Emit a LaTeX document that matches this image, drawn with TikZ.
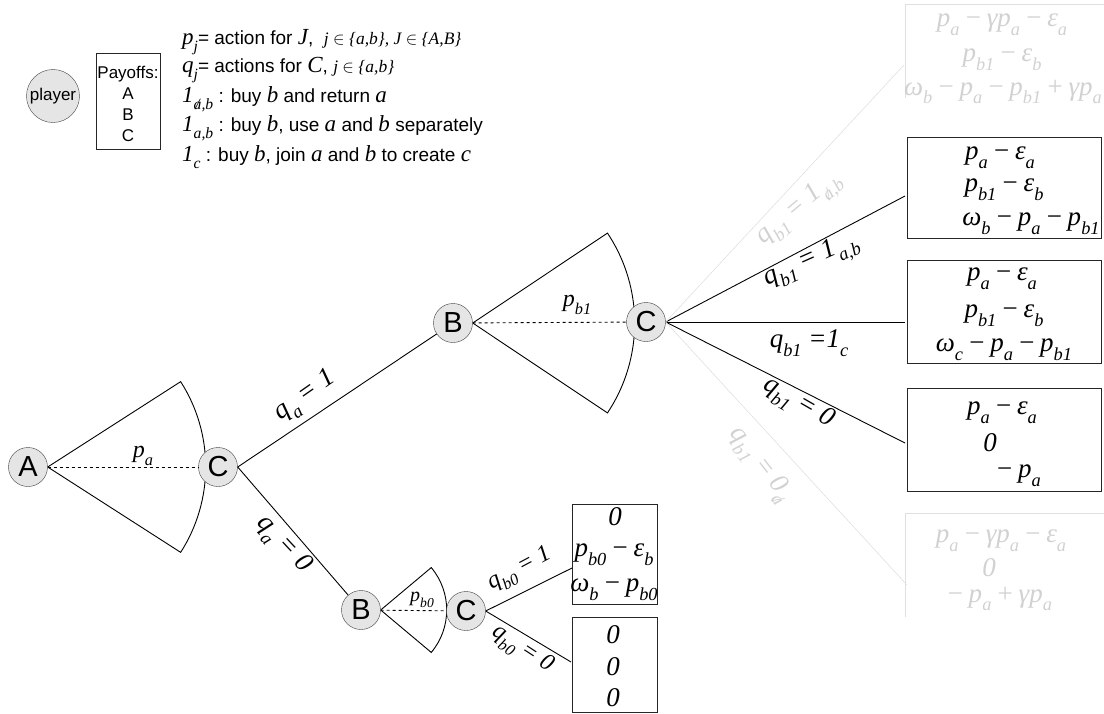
\documentclass[tikz,border=0pt]{standalone}
\usepackage{fontspec}
\setmainfont{Liberation Sans}
\newfontfamily\tms{Liberation Serif}
\newcommand{\sbs}[1]{\raisebox{-0.32em}{\scalebox{0.68}{#1}}}
\newcommand{\nota}{\ooalign{a\cr\hidewidth/\hidewidth}}
\newcommand{\mi}[1]{{\tms\itshape\fontsize{23}{23}\selectfont #1}}
\newcommand{\smi}[1]{{\tms\itshape\fontsize{17.5}{17.5}\selectfont #1}}
\pgfdeclarelayer{bg}\pgfsetlayers{bg,main}
\tikzset{
 plnode/.style={circle,draw=black!75,fill=black!10,minimum size=39pt,inner sep=0pt,font=\fontsize{29}{29}\selectfont},
 lbl/.style={inner sep=0pt,font=\tms\itshape\fontsize{27}{27}\selectfont},
 paybox/.style={draw=black!85,anchor=north west,inner sep=0pt,line width=0.9pt},
 paytxt/.style={inner sep=0pt,font=\tms\itshape\fontsize{27}{27}\selectfont},
 fadetxt/.style={paytxt,text=black!18},
 fadelbl/.style={lbl,text=black!18},
 fadeline/.style={draw=black!12,line width=0.6pt},
 edge/.style={draw=black,line width=0.9pt},
 legtxt/.style={inner sep=0pt,anchor=west,font=\fontsize{19}{19}\selectfont}
}
\begin{document}
\begin{tikzpicture}[x=1pt,y=-1pt]
\useasboundingbox (0,0) rectangle (1104,713);
% players
\node[plnode] (A) at (28,467) {A};
\node[plnode] (C1) at (218,467) {C};
\node[plnode] (B1) at (453,323) {B};
\node[plnode] (C2) at (646,322) {C};
\node[plnode] (B0) at (361,610) {B};
\node[plnode] (C0) at (466,611) {C};
% sectors
\begin{pgfonlayer}{bg}
\draw[edge] (A.east) -- ++(32.7:158) arc[start angle=32.7,end angle=-32.7,radius=158] -- cycle;
\draw[edge] (B1.east) -- ++(33.7:162) arc[start angle=33.7,end angle=-33.7,radius=162] -- cycle;
\draw[edge] (B0.east) -- ++(40:66) arc[start angle=40,end angle=-40,radius=66] -- cycle;
\end{pgfonlayer}
\draw[dashed,line width=0.9pt] (A) -- (C1);
\draw[dashed,line width=0.9pt] (B1) -- (C2);
\draw[dashed,line width=0.9pt] (B0) -- (C0);
% tree edges
\draw[edge] (C1.east) -- (B1);
\draw[edge] (C1.east) -- (B0);
% payoff boxes
\node[paybox,minimum width=194pt,minimum height=101pt] (box1) at (907,137) {};
\node[paybox,minimum width=194pt,minimum height=103pt] (box2) at (907,260) {};
\node[paybox,minimum width=194pt,minimum height=103pt] (box3) at (907,388) {};
\node[paybox,minimum width=85pt,minimum height=100pt] (boxb1) at (572,504) {};
\node[paybox,minimum width=85pt,minimum height=95pt] (boxb0) at (572,617) {};
\coordinate (e1) at (905,196);
\coordinate (e2) at (905,322);
\coordinate (e3) at (905,443);
\coordinate (f1) at (904,65);
\coordinate (f2) at (907,585);
\coordinate (g1) at (572,568);
\coordinate (g2) at (571,662);
\draw[edge] (C2.east) -- (e1);
\draw[edge] (C2.east) -- (e2);
\draw[edge] (C2.east) -- (e3);
\draw[fadeline] (C2.east) -- (f1);
\draw[fadeline] (C2.east) -- (f2);
\draw[edge] (C0.east) -- (g1);
\draw[edge] (C0.east) -- (g2);
% faded boxes
\draw[fadeline] (1104,4) -- (905,4) -- (905,98);
\draw[fadeline] (1104,513) -- (905,513) -- (905,617);
% edge labels
\node[lbl,font=\tms\itshape\fontsize{24}{24}\selectfont] (lpa) at (143,456) {p\sbs{a}};
\node[lbl,font=\tms\itshape\fontsize{24}{24}\selectfont] (lpb1) at (577,305) {p\sbs{b1}};
\node[lbl,font=\tms\itshape\fontsize{20}{20}\selectfont] (lpb0) at (422,600) {p\sbs{b0}};
\node[lbl,rotate=35] (lqa1) at (306,397) {q\sbs{a} = 1};
\node[lbl,rotate=-47] (lqa0) at (283,545) {q\sbs{a} = 0};
\node[lbl,rotate=24] (l1) at (812,262) {q\sbs{b1} = 1\sbs{a,b}};
\node[lbl] (l2) at (809,343) {q\sbs{b1} =1\sbs{c}};
\node[lbl,rotate=-30] (l3) at (798,404) {q\sbs{b1} = 0};
\node[fadelbl,rotate=40] (lf1) at (800,210) {q\sbs{b1} = 1\sbs{\nota,b}};
\node[fadelbl,rotate=-52] (lf2) at (760,465) {q\sbs{b1} = 0\sbs{\nota}};
\node[lbl,font=\tms\itshape\fontsize{24}{24}\selectfont,rotate=28] (lqb1) at (520,570) {q\sbs{b0} = 1};
\node[lbl,font=\tms\itshape\fontsize{24}{24}\selectfont,rotate=-33] (lqb0) at (522,650) {q\sbs{b0} = 0};
% payoffs text
\node[fadetxt] (tf11) at (1002,25) {p\sbs{a}\,−\,γp\sbs{a}\,−\,ε\sbs{a}};
\node[fadetxt] (tf12) at (1002,60) {p\sbs{b1}\,−\,ε\sbs{b}};
\node[fadetxt] (tf13) at (1003,92) {ω\sbs{b}\,−\,p\sbs{a}\,−\,p\sbs{b1}\,+\,γp\sbs{a}};
\node[paytxt] (t11) at (1000,158) {p\sbs{a}\,−\,ε\sbs{a}};
\node[paytxt] (t12) at (1004,190) {p\sbs{b1}\,−\,ε\sbs{b}};
\node[paytxt] (t13) at (1031,224) {ω\sbs{b}\,−\,p\sbs{a}\,−\,p\sbs{b1}};
\node[paytxt] (t21) at (1002,279) {p\sbs{a}\,−\,ε\sbs{a}};
\node[paytxt] (t22) at (1004,316) {p\sbs{b1}\,−\,ε\sbs{b}};
\node[paytxt] (t23) at (1004,350) {ω\sbs{c}\,−\,p\sbs{a}\,−\,p\sbs{b1}};
\node[paytxt] (t31) at (1002,413) {p\sbs{a}\,−\,ε\sbs{a}};
\node[paytxt] (t32) at (990,443) {0};
\node[paytxt] (t33) at (1018,476) {−\,p\sbs{a}};
\node[fadetxt] (tf21) at (1001,541) {p\sbs{a}\,−\,γp\sbs{a}\,−\,ε\sbs{a}};
\node[fadetxt] (tf22) at (989,568) {0};
\node[fadetxt] (tf23) at (999,599) {−\,p\sbs{a}\,+\,γp\sbs{a}};
\node[paytxt] (tb11) at (615,517) {0};
\node[paytxt] (tb12) at (614,555) {p\sbs{b0}\,−\,ε\sbs{b}};
\node[paytxt] (tb13) at (614,590) {ω\sbs{b}\,−\,p\sbs{b0}};
\node[paytxt] (tb01) at (613,635) {0};
\node[paytxt] (tb02) at (613,667) {0};
\node[paytxt] (tb03) at (613,698) {0};
% legend
\node[circle,draw=black!75,fill=black!10,minimum size=53pt,inner sep=0pt,font=\fontsize{17}{17}\selectfont] (pl) at (53,96) {player};
\node[paybox,minimum width=64pt,minimum height=96pt,line width=0.7pt] (pbox) at (96,53) {};
\node[inner sep=0pt,font=\fontsize{17}{21}\selectfont,align=center] (ptxt) at (128,104) {Payoffs:\\A\\B\\C};
\node[legtxt] (lg1) at (182,42) {\mi{p\sbs{j}}= action for \mi{J},\ \ \smi{j $\in$ \{a,b\}, J $\in$ \{A,B\}}};
\node[legtxt] (lg2) at (182,70) {\mi{q\sbs{j}}= actions for \mi{C}, \smi{j $\in$ \{a,b\}}};
\node[legtxt] (lg3) at (182,99) {\mi{1\sbs{\nota,b}} : buy \mi{b} and return \mi{a}};
\node[legtxt] (lg4) at (182,128) {\mi{1\sbs{a,b}} : buy \mi{b}, use \mi{a} and \mi{b} separately};
\node[legtxt] (lg5) at (182,157) {\mi{1\sbs{c}} : buy \mi{b}, join \mi{a} and \mi{b} to create \mi{c}};
\end{tikzpicture}
\end{document}
